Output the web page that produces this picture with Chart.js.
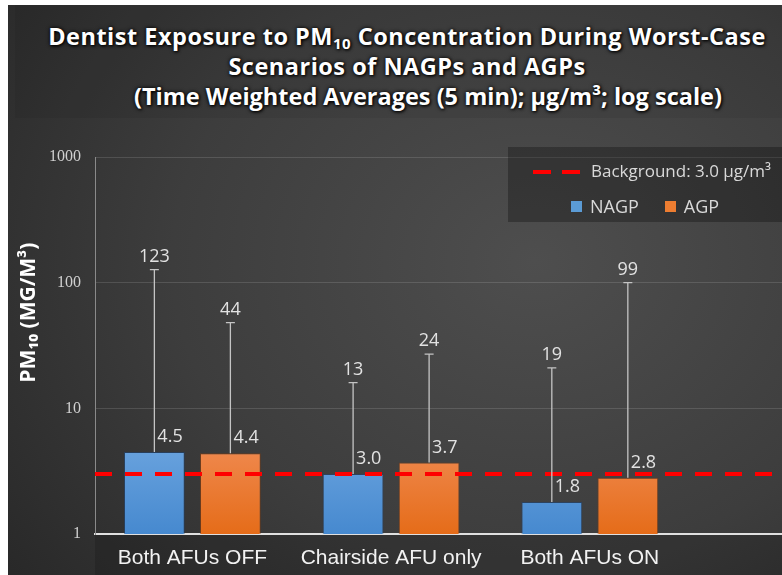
<!DOCTYPE html>
<html>
<head>
<meta charset="utf-8">
<script src="https://cdn.jsdelivr.net/npm/chart.js@4.4.0/dist/chart.umd.min.js"></script>
<style>
body { margin: 0; background: #fff; }
#wrap { position: relative; width: 782px; height: 575px; overflow: hidden; }
#bg { position: absolute; left: 8px; top: 5px; right: 0; bottom: 0;
  background: radial-gradient(ellipse 85% 95% at 68% 45%, #4e4e4e 0%, #3d3d3d 55%, #282828 100%); }
#band { position: absolute; left: 15px; top: 5px; right: 0; height: 113px; background: rgba(0,0,0,0.06); }
#title { position: absolute; left: 0; top: 21px; width: 814px; text-align: center; color: #fff;
  font: bold 23.5px 'Open Sans', sans-serif; line-height: 30px; text-shadow: 0 0 4px #000, 1px 1px 3px #000; }
#title sub { font-size: 15px; vertical-align: -4px; line-height: 0; }
#title .wide { letter-spacing: 0.5px; }
#title .l3 { padding-left: 42px; }
#myChart { position: absolute; left: 0; top: 0; }
#legend { position: absolute; left: 508px; top: 147px; width: 274px; height: 75px; background: rgba(0,0,0,0.28);
  color: #d9d9d9; font-family: 'Open Sans', sans-serif; }
#legend .row1 { position: absolute; left: 25px; top: 12px; font-size: 17px; white-space: nowrap; }
#legend .row2 { position: absolute; left: 63px; top: 47px; font-size: 18px; white-space: nowrap; }
#legend .dash { display: inline-block; width: 18px; height: 4px; margin-right: 11px; vertical-align: middle; }
#legend .box { display: inline-block; width: 11px; height: 11px; margin-right: 8px; vertical-align: 1px; }
#legend .item { margin-right: 26px; }
</style>
</head>
<body>
<div id="wrap">
  <div id="bg"></div>
  <div id="band"></div>
  <div id="title">
    <span class="wide">Dentist Exposure to PM<sub>10</sub> Concentration During Worst-Case</span><br>
    <span class="wide">Scenarios of NAGPs and AGPs</span><br>
    <span class="l3">(Time Weighted Averages (5 min); μg/m³; log scale)</span>
  </div>
  <canvas id="myChart" width="782" height="575"></canvas>
  <div id="legend"></div>
</div>
<script>
const categories = ['Both AFUs OFF', 'Chairside AFU only', 'Both AFUs ON'];
const xPositions = [0.5, 1.5, 2.5];
const xMin = 0.01;
const xMax = 3.467;
const nagpMean = [4.5, 3.0, 1.8];
const agpMean = [4.4, 3.7, 2.8];
// numbers written above the whiskers
const nagpMax = [123, 13, 19];
const agpMax = [44, 24, 99];
// where the whisker caps actually sit on the axis
const nagpErrTop = [127, 16, 21];
const agpErrTop = [48, 27, 100];
const backgroundLevel = 3.0;
const yTicks = [1, 10, 100, 1000];

const gradient = (top, bottom) => (c) => {
    const area = c.chart.chartArea;
    if (!area) return top;
    const g = c.chart.ctx.createLinearGradient(0, area.bottom - 100, 0, area.bottom);
    g.addColorStop(0, top);
    g.addColorStop(1, bottom);
    return g;
};

const labelBand = {
    id: 'labelBand',
    beforeDraw(chart) {
        const {ctx, chartArea: a} = chart;
        ctx.save();
        ctx.fillStyle = 'rgba(0,0,0,0.15)';
        ctx.fillRect(a.left, a.bottom, a.right - a.left, chart.height - a.bottom);
        ctx.restore();
    }
};

const errorBars = {
    id: 'errorBars',
    afterDatasetsDraw(chart) {
        const ctx = chart.ctx;
        const y = chart.scales.y;
        [[0, nagpErrTop, nagpMax, nagpMean], [1, agpErrTop, agpMax, agpMean]].forEach(([di, tops, maxs, means]) => {
            chart.getDatasetMeta(di).data.forEach((bar, i) => {
                const yt = y.getPixelForValue(tops[i]);
                ctx.save();
                ctx.strokeStyle = '#c4c4c4';
                ctx.lineWidth = 1.3;
                ctx.beginPath();
                ctx.moveTo(bar.x, bar.y);
                ctx.lineTo(bar.x, yt);
                ctx.moveTo(bar.x - 4.5, yt);
                ctx.lineTo(bar.x + 4.5, yt);
                ctx.stroke();
                ctx.fillStyle = '#e2e2e2';
                ctx.font = '18px "Open Sans"';
                ctx.textBaseline = 'middle';
                ctx.textAlign = 'center';
                ctx.fillText(String(maxs[i]), bar.x, yt - 13);
                ctx.textAlign = 'left';
                ctx.fillText(means[i].toFixed(1), bar.x + 3, bar.y - 15);
                ctx.restore();
            });
        });
    }
};

var ctx = document.getElementById('myChart').getContext('2d');
var myChart = new Chart(ctx, {
    type: 'bar',
    data: {
        datasets: [{
            label: 'NAGP',
            data: xPositions.map((x, i) => ({x: x, y: nagpMean[i]})),
            backgroundColor: gradient('#6ea6e0', '#4689cf'),
            borderColor: 'rgba(30,70,120,0.55)',
            borderWidth: 1,
            categoryPercentage: 0.765,
            barPercentage: 0.8,
            order: 1
        }, {
            label: 'AGP',
            data: xPositions.map((x, i) => ({x: x, y: agpMean[i]})),
            backgroundColor: gradient('#f18d56', '#e56c19'),
            borderColor: 'rgba(140,60,10,0.55)',
            borderWidth: 1,
            categoryPercentage: 0.765,
            barPercentage: 0.8,
            order: 1
        }, {
            type: 'line',
            label: 'Background: 3.0 μg/m³',
            data: [{x: xMin, y: backgroundLevel}, {x: xMax, y: backgroundLevel}],
            borderColor: '#ff0000',
            borderWidth: 4,
            borderDash: [17, 13],
            pointRadius: 0,
            order: 0
        }]
    },
    options: {
        responsive: false,
        animation: false,
        layout: { padding: { top: 157, left: 0, right: 0, bottom: 0 } },
        plugins: {
            legend: { display: false },
            tooltip: { enabled: false }
        },
        scales: {
            x: {
                type: 'linear',
                min: xMin,
                max: xMax,
                offset: false,
                grid: { display: false, drawTicks: false },
                border: { display: true, color: '#e0e0e0', width: 2 },
                afterBuildTicks: s => { s.ticks = xPositions.map(v => ({value: v})); },
                afterFit: s => { s.height = 41; },
                ticks: {
                    color: '#f2f2f2',
                    font: { family: 'Liberation Sans', size: 21 },
                    padding: 12,
                    maxRotation: 0,
                    autoSkip: false,
                    callback: (v, i) => categories[i]
                }
            },
            y: {
                type: 'logarithmic',
                min: 1,
                max: 1000,
                afterBuildTicks: s => { s.ticks = yTicks.map(v => ({value: v})); },
                afterFit: s => { s.width = 95; },
                grid: { color: 'rgba(255,255,255,0.13)', drawTicks: false },
                border: { color: '#8a8a8a', width: 1 },
                ticks: {
                    color: '#d0d0d0',
                    font: { family: 'Liberation Serif', size: 16 },
                    padding: 14,
                    callback: v => String(v)
                },
                title: {
                    display: true,
                    text: ' '.repeat(12) + 'PM₁₀ (MG/M³)',
                    color: '#ffffff',
                    font: { family: 'Open Sans', size: 21, weight: 'bold' },
                    padding: { top: 16, bottom: 0 }
                }
            }
        }
    },
    plugins: [labelBand, errorBars]
});

// legend in the same layout as the original (line on its own row, bars below)
const ds = myChart.data.datasets;
document.getElementById('legend').innerHTML =
    '<div class="row1"><span class="dash" style="background:' + ds[2].borderColor + '"></span>' +
    '<span class="dash" style="background:' + ds[2].borderColor + '"></span>' + ds[2].label + '</div>' +
    '<div class="row2"><span class="item"><span class="box" style="background:#5b9bd5"></span>' + ds[0].label + '</span>' +
    '<span><span class="box" style="background:#ed7d31"></span>' + ds[1].label + '</span></div>';
</script>
</body>
</html>
